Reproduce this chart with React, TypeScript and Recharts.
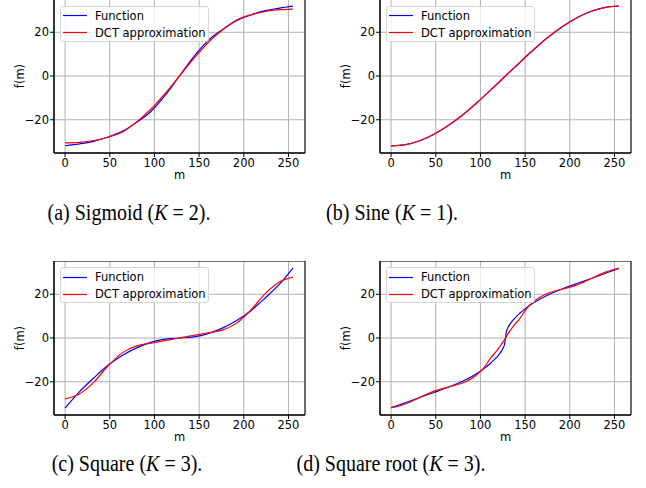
import React from "react"
import { CartesianGrid, Legend, Line, LineChart, ReferenceArea, XAxis, YAxis } from "recharts"

// sample positions m
const mCoarse = [0, 16, 32, 48, 64, 80, 96, 112, 128, 144, 160, 176, 192, 208, 224, 240, 255]
const mSqrt = [0, 8, 16, 32, 48, 64, 80, 96, 104, 112, 118, 122, 125, 127, 128, 129, 131, 134, 138, 144, 152, 160, 176, 192, 208, 224, 240, 248, 255]

// (a) sigmoid
const sigmoidFn = [-31.9, -31.0, -29.9, -27.9, -25.3, -21.2, -16.2, -8.9, 0, 8.9, 16.2, 21.2, 25.3, 27.9, 29.9, 31.0, 31.9]
const sigmoidDct = [-30.6, -30.3, -29.5, -28.0, -25.6, -21.0, -15.2, -8.0, 0, 8.0, 15.2, 21.0, 25.6, 28.0, 29.5, 30.3, 30.6]

// (b) sine
const sineFn = [-32.0, -31.4, -29.6, -26.6, -22.6, -17.8, -12.2, -6.2, 0, 6.2, 12.2, 17.8, 22.6, 26.6, 29.6, 31.4, 32.0]
const sineDct = [-31.9, -31.4, -29.6, -26.6, -22.6, -17.8, -12.2, -6.2, 0, 6.2, 12.2, 17.8, 22.6, 26.6, 29.6, 31.4, 31.9]

// (c) square
const squareFn = [-32.0, -24.6, -18.3, -12.5, -8.0, -4.5, -2.0, -0.5, 0, 0.5, 2.0, 4.5, 8.0, 12.5, 18.3, 24.6, 32.0]
const squareDct = [-27.8, -25.6, -20.3, -12.8, -6.8, -3.6, -2.4, -1.2, 0, 1.2, 2.4, 3.6, 6.8, 12.8, 20.3, 25.6, 27.8]

// (d) square root
const sqrtFn = [-31.8, -30.8, -29.6, -27.2, -24.9, -22.5, -19.8, -16.2, -14.0, -11.3, -8.9, -6.9, -4.9, -2.8, 0, 2.8, 4.9, 6.9, 8.9, 11.3, 14.0, 16.2, 19.8, 22.5, 24.9, 27.2, 29.6, 30.8, 31.8]
const sqrtDct = [-31.8, -31.2, -30.1, -27.2, -24.3, -22.4, -20.6, -16.8, -13.6, -8.9, -6.0, -3.8, -2.0, -0.7, 0, 0.7, 2.0, 3.8, 6.0, 8.9, 13.6, 16.8, 20.6, 22.4, 24.3, 27.2, 30.1, 31.2, 31.8]

const seriesNames = ["Function", "DCT approximation"]
const xTicks = [0, 50, 100, 150, 200, 250]
const yTicks = [-20, 0, 20]
const xDomain = [-12.4, 268.5]
const yDomain = [-35.2, 35.2]

const sans = "DejaVu Sans"
const tickStyle = { fontSize: 11.5, fill: "#000", fontFamily: sans }
const fmt = (v: number) => (v < 0 ? `\u2212${-v}` : `${v}`)

const LegendBox = (props: any) => {
  const items = [...(props.payload || [])].sort(
    (a: any, b: any) => seriesNames.indexOf(a.value) - seriesNames.indexOf(b.value)
  )
  return (
    <div style={{ width: 147, height: 34, border: "1px solid #d6d6d6", borderRadius: 3, background: "rgba(255,255,255,0.8)", position: "relative", fontFamily: sans, fontSize: 11.5 }}>
      {items.map((it: any, i: number) => (
        <div key={i} style={{ position: "absolute", left: 0, top: 0.5 + i * 17, height: 17, display: "flex", alignItems: "center", whiteSpace: "nowrap" }}>
          <svg width={28} height={17} style={{ display: "block" }}>
            <line x1={2} x2={26} y1={8.5} y2={8.5} stroke={it.color} strokeWidth={1.2} />
          </svg>
          <span style={{ marginLeft: 6, color: "#000" }}>{it.value}</span>
        </div>
      ))}
    </div>
  )
}

interface PanelProps {
  left: number
  top: number
  m: number[]
  fn: number[]
  dct: number[]
}

const Panel = ({ left, top, m, fn, dct }: PanelProps) => {
  const data = m.map((x, i) => ({ m: x, fn: fn[i], dct: dct[i] }))
  return (
    <div style={{ position: "absolute", left, top }}>
      <LineChart width={310} height={187} data={data} margin={{ top: 0, right: 5, bottom: 0, left: 0 }}>
        <CartesianGrid stroke="#b0b0b0" strokeWidth={1} />
        <XAxis dataKey="m" type="number" domain={xDomain} ticks={xTicks} allowDataOverflow height={33}
          tickSize={4} tickMargin={2} stroke="#000" tick={tickStyle}
          label={{ value: "m", position: "insideBottom", offset: 7, fill: "#000", fontSize: 11.5, fontFamily: sans }} />
        <YAxis type="number" domain={yDomain} ticks={yTicks} allowDataOverflow width={54}
          tickSize={4} tickMargin={1} stroke="#000" tick={tickStyle} tickFormatter={fmt}
          label={{ value: "f(m)", angle: -90, position: "insideLeft", offset: 20, fill: "#000", fontSize: 11.5, fontFamily: sans, style: { textAnchor: "middle" } }} />
        <ReferenceArea x1={xDomain[0]} x2={xDomain[1]} y1={yDomain[0]} y2={yDomain[1]} fill="none" fillOpacity={0} stroke="#000" strokeWidth={1} />
        <Line type="monotone" dataKey="fn" name={seriesNames[0]} stroke="#0000ff" strokeWidth={1.2} dot={false} isAnimationActive={false} />
        <Line type="monotone" dataKey="dct" name={seriesNames[1]} stroke="#ff0000" strokeWidth={1.2} dot={false} isAnimationActive={false} />
        <Legend layout="vertical" align="center" verticalAlign="middle" content={<LegendBox />}
          wrapperStyle={{ left: 60, top: 6.5, width: 149, height: 36 }} />
      </LineChart>
    </div>
  )
}

const capStyle: React.CSSProperties = {
  position: "absolute", width: 300, textAlign: "center", fontFamily: "Liberation Serif", fontSize: 20,
  color: "#000", transform: "scaleY(1.12)", lineHeight: "24px", whiteSpace: "pre",
}

const Caption = ({ cx, cy, children }: { cx: number; cy: number; children: React.ReactNode }) => (
  <div style={{ ...capStyle, left: cx - 150, top: cy - 12 }}>{children}</div>
)

const App = () => (
  <div style={{ position: "absolute", left: 0, top: 0, width: 646, height: 488, background: "#fff", overflow: "hidden" }}>
    <Panel left={0} top={-1} m={mCoarse} fn={sigmoidFn} dct={sigmoidDct} />
    <Panel left={326} top={-1} m={mCoarse} fn={sineFn} dct={sineDct} />
    <Panel left={0} top={260.5} m={mCoarse} fn={squareFn} dct={squareDct} />
    <Panel left={326} top={260.5} m={mSqrt} fn={sqrtFn} dct={sqrtDct} />
    <Caption cx={129} cy={212}>(a) Sigmoid (<i>K</i> = 2).</Caption>
    <Caption cx={392} cy={212}>(b) Sine (<i>K</i> = 1).</Caption>
    <Caption cx={127} cy={463}>(c) Square (<i>K</i> = 3).</Caption>
    <Caption cx={391} cy={463}>(d) Square root (<i>K</i> = 3).</Caption>
  </div>
)

export default App
